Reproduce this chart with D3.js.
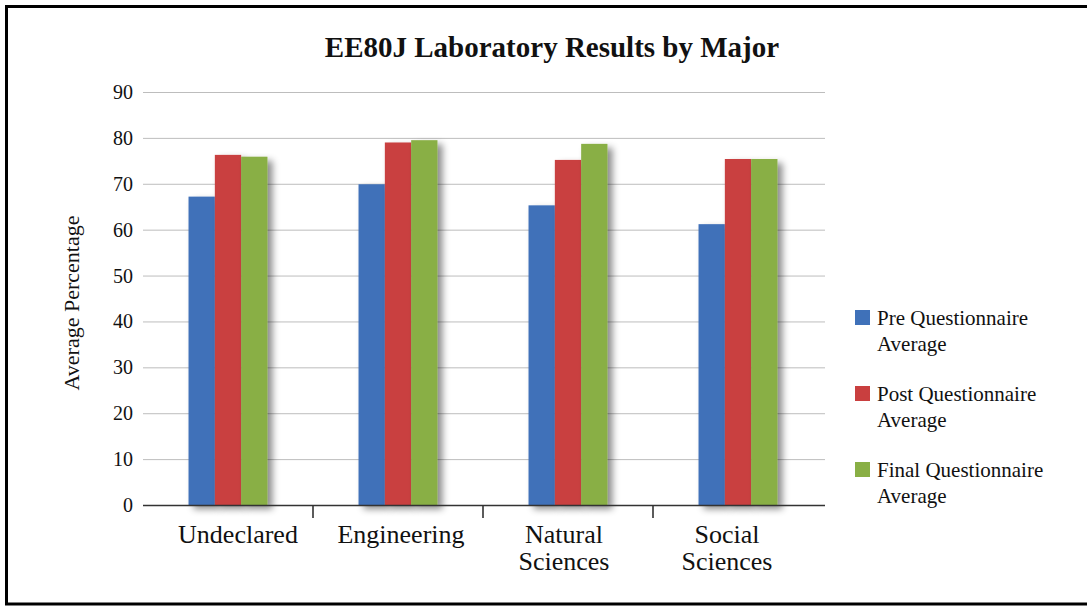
<!DOCTYPE html>
<html>
<head>
<meta charset="utf-8">
<script src="https://cdn.jsdelivr.net/npm/d3@7"></script>
<style>
  body { margin: 0; background: #fff; }
  svg text { font-family: "Liberation Serif", "Times New Roman", serif; fill: #111; }
</style>
</head>
<body>
<div id="chart"></div>
<script>
// data
var majors = ["Undeclared", "Engineering", "Natural Sciences", "Social Sciences"];
var seriesNames = ["Pre Questionnaire Average", "Post Questionnaire Average", "Final Questionnaire Average"];
var preAvg = [67.2, 69.9, 65.3, 61.2];
var postAvg = [76.3, 79.0, 75.2, 75.4];
var finalAvg = [75.9, 79.5, 78.7, 75.4];
var yTicks = [0, 10, 20, 30, 40, 50, 60, 70, 80, 90];
var colors = ["#3f71b9", "#c93f3f", "#89af45"];

var width = 1087, height = 607;
var svg = d3.select("#chart").append("svg")
    .attr("width", width)
    .attr("height", height);

// soft shadow behind bars
var defs = svg.append("defs");
var filt = defs.append("filter").attr("id", "shadow")
    .attr("x", "-30%").attr("y", "-10%").attr("width", "180%").attr("height", "130%");
filt.append("feDropShadow")
    .attr("dx", 5).attr("dy", 4)
    .attr("stdDeviation", 3.5)
    .attr("flood-color", "#000")
    .attr("flood-opacity", 0.45);

// frame
svg.append("rect")
    .attr("x", 6.5).attr("y", 6.5)
    .attr("width", 1100).attr("height", 597.5)
    .attr("fill", "none")
    .attr("stroke", "#000")
    .attr("stroke-width", 3);

var plotLeft = 143, plotRight = 823, plotTop = 92, plotBottom = 505;

var x0 = d3.scaleBand().domain(majors).range([plotLeft, plotRight]);
var x1 = d3.scaleBand().domain(seriesNames)
    .range([0, x0.bandwidth()])
    .paddingInner(0)
    .paddingOuter(1.73);
var y = d3.scaleLinear().domain([0, 90]).range([plotBottom, plotTop]);
// category labels sit a little tighter than the bands
var xLabel = d3.scalePoint().domain(majors).range([238, 727]);

// gridlines
svg.append("g").selectAll("line")
    .data(yTicks.filter(function (d) { return d > 0; }))
    .enter().append("line")
    .attr("x1", plotLeft).attr("x2", plotRight + 2)
    .attr("y1", function (d) { return y(d) + 0.5; })
    .attr("y2", function (d) { return y(d) + 0.5; })
    .attr("stroke", "#bdbdbd")
    .attr("stroke-width", 1);

// y tick labels
svg.append("g").selectAll("text")
    .data(yTicks)
    .enter().append("text")
    .attr("x", 133)
    .attr("y", function (d) { return y(d) + 7; })
    .attr("text-anchor", "end")
    .style("font-size", "20px")
    .text(function (d) { return d; });

// y label
svg.append("text")
    .attr("transform", "translate(79,303) rotate(-90)")
    .attr("text-anchor", "middle")
    .style("font-size", "22px")
    .text("Average Percentage");

// bars
var table = majors.map(function (m, i) {
    return { major: m, values: [preAvg[i], postAvg[i], finalAvg[i]] };
});

var groups = svg.append("g").selectAll("g")
    .data(table)
    .enter().append("g")
    .attr("transform", function (d) { return "translate(" + x0(d.major) + ",0)"; });

groups.selectAll("rect")
    .data(function (d) {
        return d.values.map(function (v, j) { return { key: seriesNames[j], value: v, idx: j }; });
    })
    .enter().append("rect")
    .attr("x", function (d) { return x1(d.key); })
    .attr("width", x1.bandwidth())
    .attr("y", function (d) { return y(d.value); })
    .attr("height", function (d) { return plotBottom - y(d.value); })
    .attr("fill", function (d) { return colors[d.idx]; })
    .attr("filter", "url(#shadow)");

// x axis line and separators
svg.append("line")
    .attr("x1", plotLeft).attr("x2", plotRight + 2)
    .attr("y1", plotBottom + 0.5).attr("y2", plotBottom + 0.5)
    .attr("stroke", "#333")
    .attr("stroke-width", 1.6);

svg.append("g").selectAll("line")
    .data(majors.slice(1))
    .enter().append("line")
    .attr("x1", function (d) { return x0(d); })
    .attr("x2", function (d) { return x0(d); })
    .attr("y1", plotBottom).attr("y2", plotBottom + 13)
    .attr("stroke", "#333")
    .attr("stroke-width", 1.6);

// category labels (wrapped on space for two word names)
var catLabels = svg.append("g").selectAll("text")
    .data(majors)
    .enter().append("text")
    .attr("text-anchor", "middle")
    .style("font-size", "26px");
catLabels.each(function (d) {
    var words = d.split(" ");
    var t = d3.select(this);
    words.forEach(function (w, k) {
        t.append("tspan")
            .attr("x", xLabel(d))
            .attr("y", 543 + k * 27)
            .text(w);
    });
});

// title
svg.append("text")
    .attr("x", 552)
    .attr("y", 57)
    .attr("text-anchor", "middle")
    .style("font-size", "29px")
    .style("font-weight", "bold")
    .text("EE80J Laboratory Results by Major");

// legend
var legend = svg.append("g").selectAll("g")
    .data(seriesNames)
    .enter().append("g")
    .attr("transform", function (d, i) { return "translate(855," + (310 + i * 76) + ")"; });

legend.append("rect")
    .attr("width", 15).attr("height", 15)
    .attr("fill", function (d, i) { return colors[i]; });

legend.append("text")
    .style("font-size", "21px")
    .each(function (d) {
        var t = d3.select(this);
        var parts = [d.replace(" Average", ""), "Average"];
        parts.forEach(function (p, k) {
            t.append("tspan").attr("x", 22).attr("y", 15 + k * 26).text(p);
        });
    });
</script>
</body>
</html>
